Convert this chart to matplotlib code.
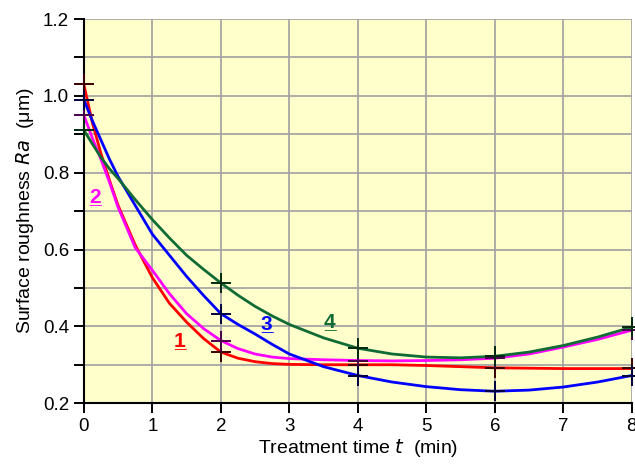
import numpy as np
import matplotlib.pyplot as plt
from matplotlib.ticker import MultipleLocator

plt.rcParams['font.family'] = ['Liberation Sans', 'DejaVu Sans']

# measured points (markers)
t_pts = [0, 2, 4, 6, 8]
ra1 = [1.03, 0.333, 0.30, 0.292, 0.292]
ra2 = [0.95, 0.363, 0.311, 0.318, 0.39]
ra3 = [0.99, 0.433, 0.272, 0.231, 0.272]
ra4 = [0.911, 0.513, 0.343, 0.323, 0.398]

# fitted curves
t_fit = [0, 0.125, 0.25, 0.375, 0.5, 0.75, 1, 1.25, 1.5, 1.75, 2,
         2.25, 2.5, 2.75, 3, 3.5, 4, 4.5, 5, 5.5, 6, 6.5, 7, 7.5, 8]
fit1 = [1.03, 0.93, 0.85, 0.78, 0.715, 0.612, 0.527, 0.46, 0.411, 0.368, 0.333,
        0.317, 0.308, 0.303, 0.301, 0.300, 0.300, 0.300, 0.298, 0.295, 0.292, 0.291, 0.290, 0.290, 0.290]
fit2 = [0.95, 0.89, 0.835, 0.775, 0.71, 0.605, 0.546, 0.485, 0.433, 0.394, 0.363,
        0.342, 0.328, 0.320, 0.316, 0.313, 0.311, 0.310, 0.311, 0.313, 0.317, 0.328, 0.346, 0.366, 0.39]
fit3 = [0.99, 0.935, 0.885, 0.835, 0.79, 0.715, 0.64, 0.585, 0.53, 0.48, 0.433,
        0.405, 0.38, 0.353, 0.328, 0.295, 0.272, 0.255, 0.243, 0.235, 0.231, 0.234, 0.242, 0.255, 0.272]
fit4 = [0.911, 0.875, 0.84, 0.81, 0.785, 0.73, 0.678, 0.63, 0.585, 0.548, 0.513,
        0.481, 0.452, 0.427, 0.405, 0.37, 0.343, 0.328, 0.32, 0.318, 0.322, 0.333, 0.35, 0.372, 0.398]

curve_labels = ['1', '2', '3', '4']
label_pos = [(1.40, 0.345), (0.17, 0.72), (2.67, 0.39), (3.59, 0.395)]
colors = ['#ff0000', '#ff00ff', '#0000ff', '#106b35']
mcolors = ['#3a0000', '#4a004a', '#000040', '#002a10']

fig = plt.figure(figsize=(6.35, 4.65), dpi=100)
ax = fig.add_axes([0.132, 0.133, 0.863, 0.826])
ax.set_facecolor('#ffffcc')

for fit, pts, c, mc in zip([fit1, fit2, fit3, fit4], [ra1, ra2, ra3, ra4], colors, mcolors):
    ax.plot(t_fit, fit, color=c, lw=2.0, zorder=3)
    ax.plot(t_pts, pts, ls='none', marker='+', ms=14, mew=1.4, color=mc,
            zorder=4, clip_on=False)

for lab, (x, y), c in zip(curve_labels, label_pos, colors):
    ax.text(x, y, lab, color=c, fontsize=15, fontweight='bold', ha='center', va='baseline')
    ax.text(x, y, '_', color=c, fontsize=15, fontweight='bold', ha='center', va='baseline')

ax.set_xlim(0, 8)
ax.set_ylim(0.2, 1.2)
ax.xaxis.set_major_locator(MultipleLocator(1))
ax.yaxis.set_major_locator(MultipleLocator(0.2))
ax.yaxis.set_minor_locator(MultipleLocator(0.1))
ax.yaxis.set_major_formatter(plt.FormatStrFormatter('%.1f'))

ax.grid(True, which='both', axis='y', color='#a0a0a0', lw=1.2)
ax.grid(True, which='major', axis='x', color='#a0a0a0', lw=1.2)
ax.set_axisbelow(True)

for s in ['top', 'right']:
    ax.spines[s].set_visible(False)
for s in ['left', 'bottom']:
    ax.spines[s].set_linewidth(1.5)
ax.tick_params(which='both', direction='out', length=7, width=1.4, labelsize=13.5)
ax.tick_params(axis='x', pad=4)

ax.set_xlabel('Treatment time $t$  (min)', fontsize=14, labelpad=1)
ax.set_ylabel('Surface roughness $Ra$  (\u03bcm)', fontsize=14, labelpad=5)

fig.savefig('out.png', dpi=100)
